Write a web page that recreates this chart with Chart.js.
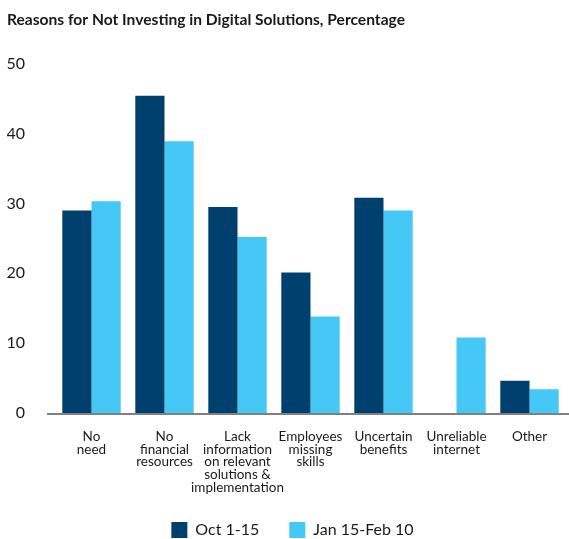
<!DOCTYPE html>
<html>
<head>
<meta charset="utf-8">
<script src="https://cdn.jsdelivr.net/npm/chart.js@4/dist/chart.umd.min.js"></script>
<style>
  html, body { margin: 0; padding: 0; background: #fff; overflow: hidden; }
  #wrap { width: 569px; height: 552px; position: relative; }
</style>
</head>
<body>
<div id="wrap"><canvas id="chart"></canvas></div>
<script>
const categories = [
  ['No', 'need'],
  ['No', 'financial', 'resources'],
  ['Lack', 'information', 'on relevant', 'solutions &', 'implementation'],
  ['Employees', 'missing', 'skills'],
  ['Uncertain', 'benefits'],
  ['Unreliable', 'internet'],
  ['Other']
];
const seriesNames = ['Oct 1-15', 'Jan 15-Feb 10'];
const octValues = [29.0, 45.4, 29.5, 20.1, 30.8, null, 4.6];
const janValues = [30.3, 38.9, 25.2, 13.8, 29.0, 10.8, 3.4];
const colors = ['#00406e', '#45c8f5'];
const yTicks = [0, 10, 20, 30, 40, 50];

const font = "Lato, 'Noto Sans', sans-serif";

const tweaks = {
  id: 'tweaks',
  afterLayout(chart) {
    // legend sits slightly right of page centre in the original
    chart.legend.left += 6;
    chart.legend.right += 6;
    // let the long category labels run past the axis box without clipping
    chart.scales.x.bottom += 20;
  },
  // baseline drawn a little wider than the plot, as in the original
  afterDatasetsDraw(chart) {
    const { ctx, chartArea } = chart;
    ctx.save();
    ctx.strokeStyle = '#808080';
    ctx.lineWidth = 2;
    ctx.beginPath();
    ctx.moveTo(chartArea.left - 8, chartArea.bottom + 1);
    ctx.lineTo(chart.width, chartArea.bottom + 1);
    ctx.stroke();
    ctx.restore();
  }
};

new Chart(document.getElementById('chart'), {
  type: 'bar',
  data: {
    labels: categories,
    datasets: [
      { label: seriesNames[0], data: octValues, backgroundColor: colors[0] },
      { label: seriesNames[1], data: janValues, backgroundColor: colors[1] }
    ]
  },
  plugins: [tweaks],
  options: {
    responsive: true,
    maintainAspectRatio: false,
    animation: false,
    layout: { padding: { left: 7, right: 3, top: 4, bottom: 4 } },
    datasets: { bar: { barPercentage: 1, categoryPercentage: 0.8 } },
    plugins: {
      title: {
        display: true,
        text: 'Reasons for Not Investing in Digital Solutions, Percentage',
        align: 'start',
        color: '#1a1a1a',
        font: { family: font, size: 15.6, weight: 'bold' },
        padding: { top: 7, bottom: 34 }
      },
      legend: {
        position: 'bottom',
        labels: {
          color: '#1a1a1a',
          boxWidth: 16, boxHeight: 16,
          padding: 30,
          font: { family: font, size: 16 }
        }
      },
      tooltip: { enabled: false }
    },
    scales: {
      x: {
        grid: { display: false, drawTicks: false },
        border: { display: false },
        afterFit: (axis) => { axis.height = 79; },
        ticks: {
          color: '#1a1a1a',
          maxRotation: 0, autoSkip: false,
          padding: 17,
          font: { family: font, size: 13.5, lineHeight: 0.95 }
        }
      },
      y: {
        min: 0, max: 50,
        afterBuildTicks: (axis) => { axis.ticks = yTicks.map(v => ({ value: v })); },
        afterFit: (axis) => { axis.width = 48; },
        grid: { display: false, drawTicks: false },
        border: { display: false },
        ticks: {
          color: '#1a1a1a',
          padding: 30,
          font: { family: font, size: 16 }
        }
      }
    }
  }
});
</script>
</body>
</html>
